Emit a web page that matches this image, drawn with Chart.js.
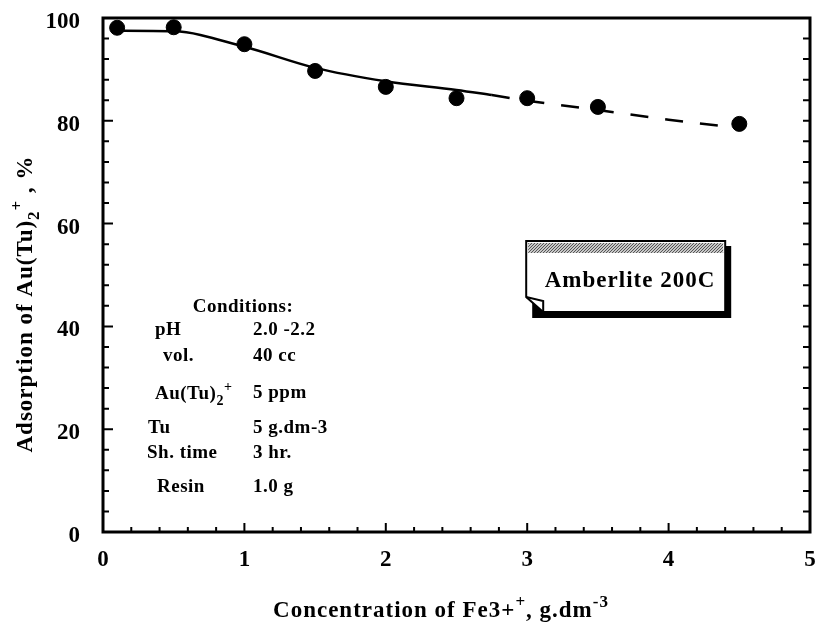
<!DOCTYPE html>
<html>
<head>
<meta charset="utf-8">
<script src="https://cdn.jsdelivr.net/npm/chart.js@4.4.1/dist/chart.umd.min.js"></script>
<style>
  html, body { margin: 0; padding: 0; background: #fff; }
  #wrap { width: 819px; height: 630px; }
</style>
</head>
<body>
<div id="wrap"><canvas id="adsChart" width="819" height="630"></canvas></div>
<script>
// measured points (Fe3+ concentration, g/dm3 -> adsorption %)
const feConc = [0.1, 0.5, 1.0, 1.5, 2.0, 2.5, 3.0, 3.5, 4.5];
const adsorption = [98.1, 98.2, 94.9, 89.7, 86.6, 84.4, 84.4, 82.7, 79.4];

// hand-drawn trend line: solid part then dashed extrapolation
const solidX = [0.1, 0.5, 1.0, 1.5, 2.0, 2.5, 2.75];
const solidY = [97.5, 97.4, 94.4, 90.3, 87.7, 86.0, 85.0];
const dashX = [2.75, 3.0, 3.5, 4.0, 4.5];
const dashY = [85.0, 83.9, 82.1, 80.2, 78.6];

const xTicks = [0, 1, 2, 3, 4, 5];
const yTicks = [0, 20, 40, 60, 80, 100];

const conditions = [
  ['pH', '2.0 -2.2'],
  ['vol.', '40 cc'],
  ['Au(Tu)2+', '5 ppm'],
  ['Tu', '5 g.dm-3'],
  ['Sh. time', '3 hr.'],
  ['Resin', '1.0 g']
];
const resinName = 'Amberlite 200C';

const SERIF = '"Liberation Serif", "DejaVu Serif", serif';

const toXY = (xs, ys) => xs.map((x, i) => ({ x: x, y: ys[i] }));

// draws a run of text pieces, some of them sub/superscript
function drawRich(ctx, parts, x, y, size, align, spacing) {
  const small = Math.round(size * 0.72);
  ctx.letterSpacing = (spacing || 0) + 'px';
  let total = 0;
  parts.forEach(p => {
    ctx.font = 'bold ' + (p.sub || p.sup ? small : size) + 'px ' + SERIF;
    p.w = ctx.measureText(p.t).width;
    total += p.w;
  });
  let cx = align === 'center' ? x - total / 2 : x;
  ctx.textAlign = 'left';
  ctx.textBaseline = 'alphabetic';
  parts.forEach(p => {
    ctx.font = 'bold ' + (p.sub || p.sup ? small : size) + 'px ' + SERIF;
    let dy = 0;
    if (p.sub) dy = size * 0.3;
    if (p.sup) dy = -size * 0.42;
    ctx.fillText(p.t, cx, y + dy);
    cx += p.w;
  });
  ctx.letterSpacing = '0px';
}

const framePlugin = {
  id: 'frame',
  afterDraw(chart) {
    const ctx = chart.ctx;
    const a = chart.chartArea;
    const xs = chart.scales.x, ys = chart.scales.y;
    ctx.save();
    ctx.fillStyle = '#000';
    ctx.strokeStyle = '#000';

    // frame
    ctx.lineWidth = 3;
    ctx.strokeRect(a.left, a.top, a.right - a.left, a.bottom - a.top);

    // inward ticks, left & right every 4 %, bottom every 0.2
    ctx.lineWidth = 2;
    ctx.beginPath();
    for (let v = 0; v <= 100; v += 4) {
      const py = ys.getPixelForValue(v);
      const major = v % 20 === 0;
      ctx.moveTo(a.left, py); ctx.lineTo(a.left + (major ? 10 : 6), py);
      ctx.moveTo(a.right, py); ctx.lineTo(a.right - 7, py);
    }
    for (let i = 0; i <= 25; i++) {
      const px = xs.getPixelForValue(i * 0.2);
      const major = i % 5 === 0;
      ctx.moveTo(px, a.bottom); ctx.lineTo(px, a.bottom - (major ? 9 : 5));
    }
    ctx.stroke();

    // axis titles
    drawRich(ctx, [
      { t: 'Concentration of Fe3+' }, { t: '+', sup: true },
      { t: ', g.dm' }, { t: '-3', sup: true }
    ], 441, 617, 23, 'center', 1);

    ctx.save();
    ctx.translate(32, 304);
    ctx.rotate(-Math.PI / 2);
    drawRich(ctx, [
      { t: 'Adsorption of Au(Tu)' }, { t: '2', sub: true }, { t: '+', sup: true },
      { t: ' , %' }
    ], 0, 0, 23, 'center', 1);
    ctx.restore();

    // conditions block
    ctx.letterSpacing = '0.5px';
    ctx.font = 'bold 19px ' + SERIF;
    ctx.textAlign = 'center';
    ctx.textBaseline = 'middle';
    ctx.fillText('Conditions:', 243, 307);
    const rowY = [330, 356, 393, 428, 453, 487];
    const labX = [155, 163, 155, 148, 147, 157];
    conditions.forEach((row, i) => {
      if (row[0] === 'Au(Tu)2+') {
        drawRich(ctx, [{ t: 'Au(Tu)' }, { t: '2', sub: true }, { t: '+', sup: true }],
          labX[i], rowY[i] + 6, 19, 'left', 0.5);
      } else {
        ctx.letterSpacing = '0.5px';
        ctx.font = 'bold 19px ' + SERIF;
        ctx.textAlign = 'left';
        ctx.textBaseline = 'middle';
        ctx.fillText(row[0], labX[i], rowY[i]);
      }
      ctx.letterSpacing = '0.5px';
      ctx.font = 'bold 19px ' + SERIF;
      ctx.textAlign = 'left';
      ctx.textBaseline = 'middle';
      ctx.fillText(row[1], 253, rowY[i]);
    });
    ctx.letterSpacing = '0px';

    // "Amberlite 200C" note card, anchored at x = 3
    const bx = xs.getPixelForValue(3) - 1;
    const by = 241;
    const bw = 199, bh = 71;
    ctx.fillStyle = '#000';
    ctx.fillRect(bx + 6, by + 5, bw, bh + 1); // shadow
    ctx.fillStyle = '#fff';
    ctx.beginPath();
    ctx.moveTo(bx, by);
    ctx.lineTo(bx + bw, by);
    ctx.lineTo(bx + bw, by + bh);
    ctx.lineTo(bx + 17, by + bh);
    ctx.lineTo(bx, by + bh - 15);
    ctx.closePath();
    ctx.fill();
    ctx.lineWidth = 2;
    ctx.strokeStyle = '#000';
    ctx.stroke();
    // folded corner
    ctx.beginPath();
    ctx.moveTo(bx, by + bh - 15);
    ctx.lineTo(bx + 17, by + bh - 11);
    ctx.lineTo(bx + 17, by + bh);
    ctx.stroke();
    // stippled band
    const pc = document.createElement('canvas');
    pc.width = 3; pc.height = 3;
    const pctx = pc.getContext('2d');
    pctx.fillStyle = '#c8c8c8';
    pctx.fillRect(0, 0, 3, 3);
    pctx.fillStyle = '#555';
    pctx.fillRect(0, 0, 1, 1);
    pctx.fillRect(2, 1, 1, 1);
    pctx.fillRect(1, 2, 1, 1);
    ctx.fillStyle = ctx.createPattern(pc, 'repeat');
    ctx.fillRect(bx + 2, by + 2, bw - 4, 10);
    ctx.fillStyle = '#000';
    ctx.letterSpacing = '1px';
    ctx.font = 'bold 23px ' + SERIF;
    ctx.textAlign = 'center';
    ctx.textBaseline = 'middle';
    ctx.fillText(resinName, 630, by + 40);
    ctx.letterSpacing = '0px';

    ctx.restore();
  }
};

new Chart(document.getElementById('adsChart'), {
  type: 'scatter',
  data: {
    datasets: [
      {
        label: 'fit',
        type: 'line',
        data: toXY(solidX, solidY),
        borderColor: '#000',
        borderWidth: 2.5,
        pointRadius: 0,
        cubicInterpolationMode: 'monotone',
        fill: false
      },
      {
        label: 'fit (extrapolated)',
        type: 'line',
        data: toXY(dashX, dashY),
        borderColor: '#000',
        borderWidth: 2.5,
        borderDash: [18, 17],
        pointRadius: 0,
        tension: 0,
        fill: false
      },
      {
        label: 'Amberlite 200C',
        data: toXY(feConc, adsorption),
        backgroundColor: '#000',
        borderColor: '#000',
        pointRadius: 7.5,
        pointHoverRadius: 7.5
      }
    ]
  },
  options: {
    responsive: false,
    animation: false,
    events: [],
    layout: { padding: { top: 18, right: 9, left: 0, bottom: 0 } },
    plugins: {
      legend: { display: false },
      tooltip: { enabled: false }
    },
    scales: {
      x: {
        type: 'linear',
        min: 0,
        max: 5,
        afterBuildTicks: s => { s.ticks = xTicks.map(v => ({ value: v })); },
        afterFit: s => { s.height = 98; s.paddingLeft = 0; s.paddingRight = 0; },
        grid: { display: false, drawTicks: false },
        border: { display: false },
        ticks: {
          color: '#000',
          padding: 14,
          maxRotation: 0,
          font: { family: SERIF, size: 23, weight: 'bold' }
        }
      },
      y: {
        min: 0,
        max: 100,
        afterBuildTicks: s => { s.ticks = yTicks.map(v => ({ value: v })); },
        afterFit: s => { s.width = 103; s.paddingTop = 0; s.paddingBottom = 0; },
        grid: { display: false, drawTicks: false },
        border: { display: false },
        ticks: {
          color: '#000',
          padding: 23,
          labelOffset: 4,
          font: { family: SERIF, size: 23, weight: 'bold' }
        }
      }
    }
  },
  plugins: [framePlugin]
});
</script>
</body>
</html>
